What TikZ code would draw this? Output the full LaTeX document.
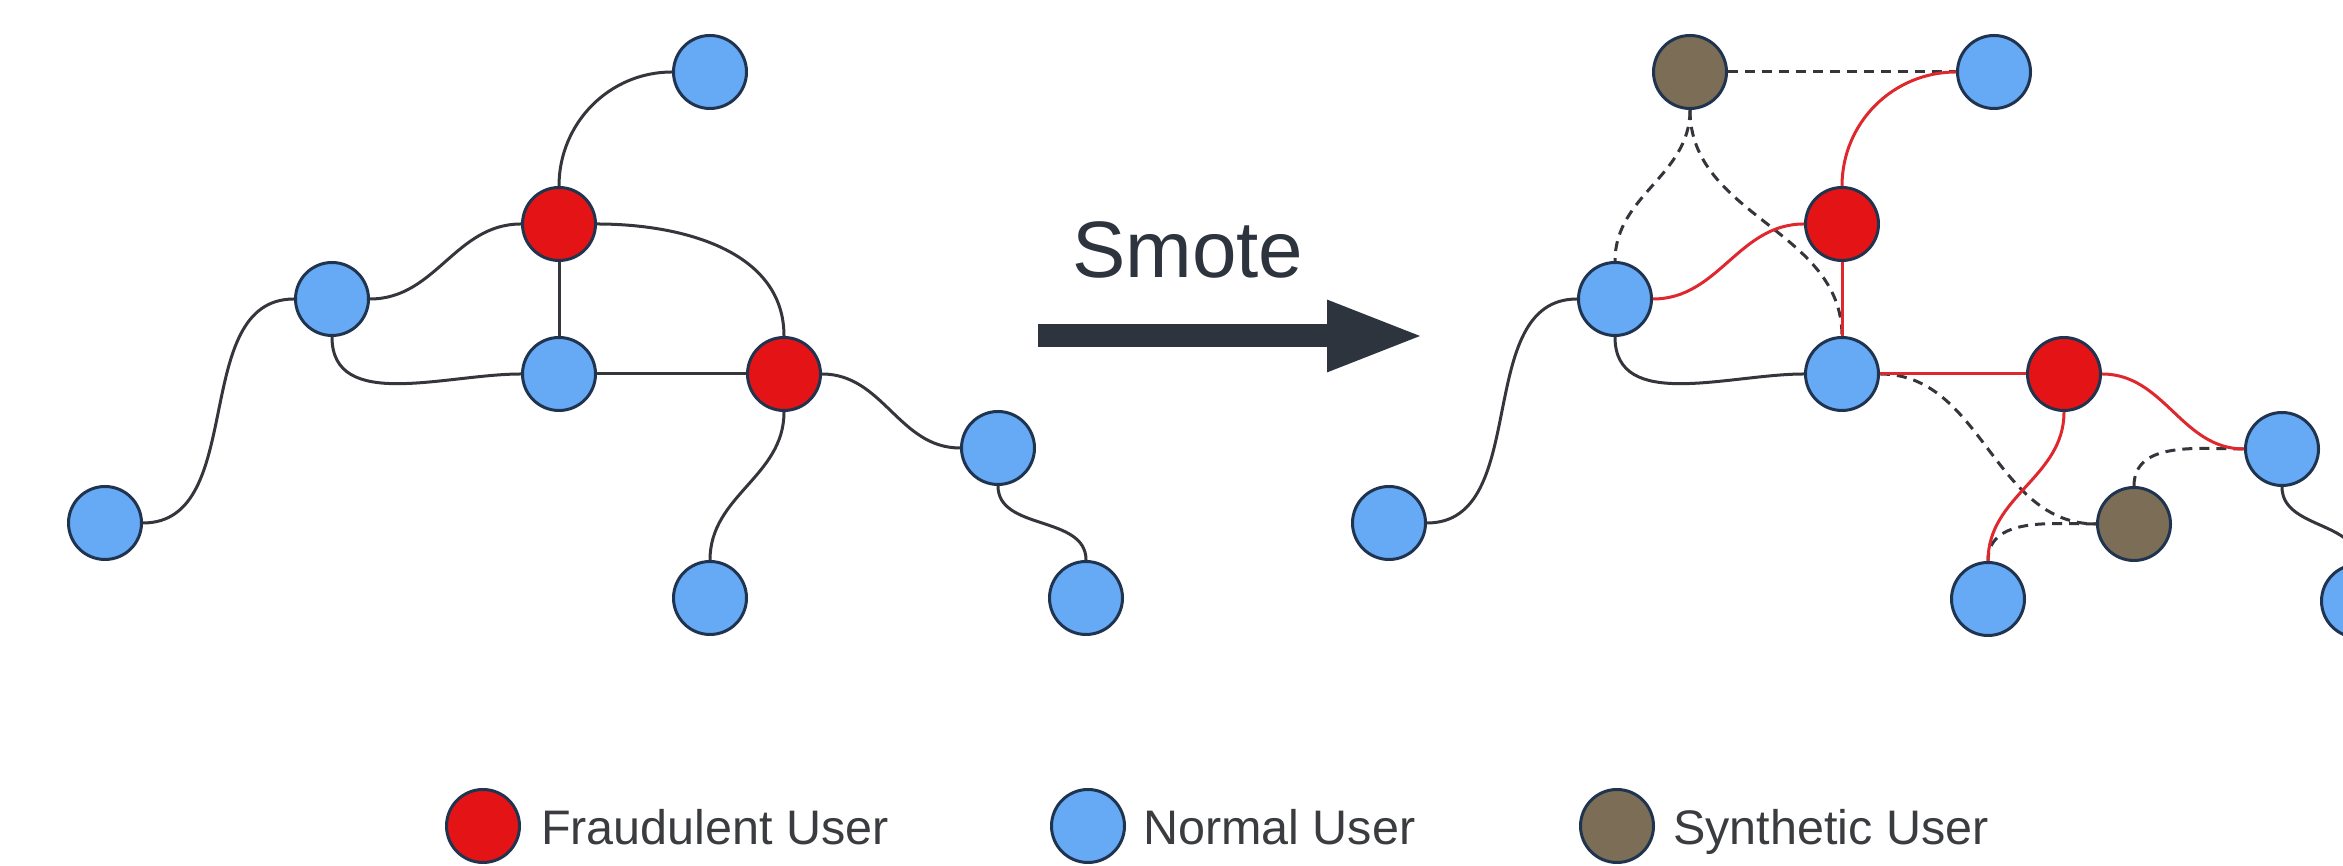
\documentclass[tikz,border=0pt]{standalone}
\usepackage{fontspec}
\setmainfont{Liberation Sans}
\usetikzlibrary{arrows.meta}

\definecolor{fraudred}{RGB}{228,20,22}
\definecolor{normalblue}{RGB}{102,170,245}
\definecolor{synthbrown}{RGB}{124,110,86}
\definecolor{rimblue}{RGB}{32,52,80}
\definecolor{linkgray}{RGB}{52,54,60}
\definecolor{linkred}{RGB}{222,40,46}
\definecolor{arrowgray}{RGB}{46,52,62}
\definecolor{labelgray}{RGB}{58,60,64}

\begin{document}
\begin{tikzpicture}
  [
    x                 = 1pt,
    y                 = 1pt,
    every node/.style = {inner sep=0pt},
    user/.style       = {circle, draw=rimblue, line width=3pt, minimum size=73pt},
    fraud/.style      = {user, fill=fraudred},
    normal/.style     = {user, fill=normalblue},
    synth/.style      = {user, fill=synthbrown},
    link/.style       = {draw=linkgray, line width=3pt},
    redlink/.style    = {draw=linkred, line width=3pt},
    fakelink/.style   = {draw=linkgray, line width=3pt, dash pattern=on 10pt off 7pt},
    legend/.style     = {anchor=base west, text=labelgray, font=\fontsize{48.5}{52}\selectfont}
  ]
  \useasboundingbox (0,0) rectangle (2343,866);
  \clip (0,0) rectangle (2343,866);

  % before
  \node[normal] (aN1) at (710,794) {};
  \node[normal] (aN2) at (332,567) {};
  \node[normal] (aN3) at (559,492) {};
  \node[normal] (aN4) at (998,418) {};
  \node[normal] (aN5) at (105,343) {};
  \node[normal] (aN6) at (710,268) {};
  \node[normal] (aN7) at (1086,268) {};
  \node[fraud]  (aF1) at (559,642) {};
  \node[fraud]  (aF2) at (784,492) {};

  \draw[link] (aN5.east) to[out=0, in=180] (aN2.west);
  \draw[link] (aN2.east) to[out=0, in=180] (aF1.west);
  \draw[link] (aN2.south) to[out=-90, in=180] (aN3.west);
  \draw[link] (aF1.north) to[out=90, in=180] (aN1.west);
  \draw[link] (aF1) -- (aN3);
  \draw[link] (aF1.east) to[out=0, in=90] (aF2.north);
  \draw[link] (aN3) -- (aF2);
  \draw[link] (aF2.east) to[out=0, in=180] (aN4.west);
  \draw[link] (aF2.south) to[out=-90, in=90] (aN6.north);
  \draw[link] (aN4.south) to[out=-90, in=90] (aN7.north);

  % Smote arrow
  \node[anchor=base west, text=arrowgray, font=\fontsize{80}{84}\selectfont] (smote) at (1072,588) {Smote};
  \coordinate (arrL) at (1038,530);
  \coordinate (arrR) at (1425,530);
  \draw[arrowgray, line width=23pt, -{Triangle[length=98pt, width=65pt]}] (arrL) -- (arrR);

  % after
  \node[normal] (bN1) at (1994,794) {};
  \node[normal] (bN2) at (1615,567) {};
  \node[normal] (bN3) at (1842,492) {};
  \node[normal] (bN4) at (2282,417) {};
  \node[normal] (bN5) at (1389,343) {};
  \node[normal] (bN6) at (1988,267) {};
  \node[normal] (bN7) at (2358,265) {};
  \node[fraud]  (bF1) at (1842,642) {};
  \node[fraud]  (bF2) at (2064,492) {};
  \node[synth]  (bS1) at (1690,794) {};
  \node[synth]  (bS2) at (2134,342) {};

  \draw[link] (bN5.east) to[out=0, in=180] (bN2.west);
  \draw[link] (bN2.south) to[out=-90, in=180] (bN3.west);
  \draw[link] (bN4.south) to[out=-90, in=90] (bN7.north);
  \draw[fakelink] (bS1) -- (bN1);
  \draw[fakelink] (bS1.south) to[out=-90, in=90] (bN2.north);
  \draw[fakelink] (bS1.south) to[out=-90, in=90] (bN3.north);
  \draw[fakelink] (bN3.east) to[out=0, in=180] (bS2.west);
  \draw[fakelink] (bS2.west) to[out=180, in=90] (bN6.north);
  \draw[fakelink] (bS2.north) to[out=90, in=180] (bN4.west);
  \draw[redlink] (bN2.east) to[out=0, in=180] (bF1.west);
  \draw[redlink] (bF1.north) to[out=90, in=180] (bN1.west);
  \draw[redlink] (bF1) -- (bN3);
  \draw[redlink] (bN3) -- (bF2);
  \draw[redlink] (bF2.east) to[out=0, in=180] (bN4.west);
  \draw[redlink] (bF2.south) to[out=-90, in=90] (bN6.north);

  % legend
  \node[fraud]  (kF) at (483,40) {};
  \node[legend] (kFtext) at (541,21) {Fraudulent User};
  \node[normal] (kN) at (1088,40) {};
  \node[legend] (kNtext) at (1143,21) {Normal User};
  \node[synth]  (kS) at (1617,40) {};
  \node[legend] (kStext) at (1673,21) {Synthetic User};
\end{tikzpicture}
\end{document}
